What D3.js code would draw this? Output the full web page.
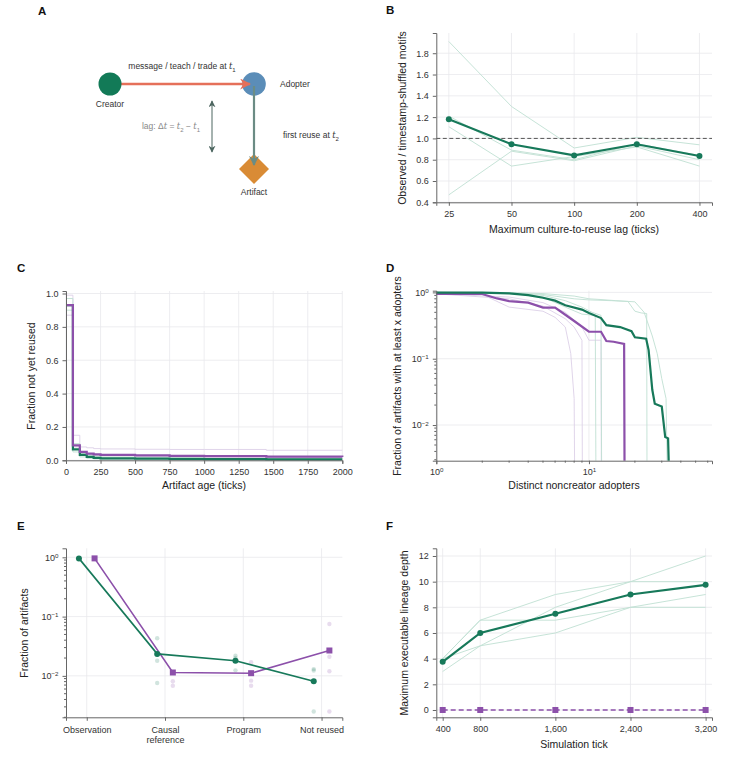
<!DOCTYPE html>
<html>
<head>
<meta charset="utf-8">
<script src="https://cdn.jsdelivr.net/npm/d3@7"></script>
<style>
  body { margin: 0; background: #fff; }
  svg { font-family: "Liberation Sans", Arial, sans-serif; }
  .tick text { fill: #333; font-size: 9px; }
  .tick line { stroke: #666; }
  .domain { stroke: #666; }
  .grid line { stroke: #e8e8ec; stroke-width: 0.8; }
  .axis-label { fill: #222; font-size: 10.5px; text-anchor: middle; }
  .panel-label { font-weight: bold; font-size: 11.5px; fill: #111; }
</style>
</head>
<body>
<div id="chart"></div>
<script>
// colours
let green = "#17795a";
let purple = "#8c50aa";
let greenFaint = "#bfe0d3";
let purpleFaint = "#ddd0e8";

// ---------- Panel B: motif ratio vs lag ----------
let lagCats = ["25", "50", "100", "200", "400"];
let lagMean = [1.18, 0.945, 0.84, 0.945, 0.835];
let lagReps = [
  [1.91, 1.30, 0.91, 1.01, 0.94],
  [1.21, 0.89, 0.80, 0.95, 0.84],
  [1.11, 0.74, 0.83, 0.92, 0.74],
  [0.47, 0.88, 0.79, 0.93, 0.80]
];

// ---------- Panel C: survival (fraction not yet reused) ----------
let ageTicks = [0, 50, 100, 150, 200, 250, 500, 750, 1000, 1450, 2000];
let survGreen = [0.93, 0.065, 0.032, 0.02, 0.014, 0.012, 0.01, 0.008, 0.007, 0.006, 0.006];
let survPurple = [0.93, 0.09, 0.05, 0.04, 0.035, 0.033, 0.03, 0.027, 0.025, 0.022, 0.02];
let survGreenReps = [
  [0.97, 0.10, 0.04, 0.03, 0.025, 0.02, 0.015, 0.012, 0.01, 0.01, 0.01],
  [0.90, 0.05, 0.02, 0.012, 0.008, 0.006, 0.005, 0.004, 0.004, 0.003, 0.003]
];
let survPurpleReps = [
  [0.99, 0.15, 0.08, 0.075, 0.07, 0.068, 0.066, 0.065, 0.065, 0.06, 0.06],
  [0.87, 0.08, 0.05, 0.035, 0.03, 0.028, 0.025, 0.022, 0.02, 0.018, 0.018]
];

// ---------- Panel D: adopter CCDF (0 = drops to axis) ----------
let adoptGreenX = [1, 2, 3, 4, 5, 6, 7, 9, 10, 12, 13, 16, 19, 20, 23.7, 24.6, 26, 27, 30, 31.6, 33, 33.3];
let adoptGreenY = [0.99, 0.99, 0.965, 0.91, 0.83, 0.75, 0.64, 0.55, 0.49, 0.41, 0.32, 0.30, 0.26, 0.21, 0.20, 0.135, 0.034, 0.021, 0.019, 0.0066, 0.0063, 0];
let adoptPurpleX = [1, 2, 2.5, 3, 4, 5, 6, 7, 8, 10, 12, 13, 14.5, 17, 17.1];
let adoptPurpleY = [0.945, 0.945, 0.81, 0.74, 0.70, 0.59, 0.59, 0.46, 0.37, 0.255, 0.255, 0.185, 0.18, 0.167, 0];
let adoptGreenReps = [
  { x: [1, 3, 5, 8, 10, 14, 18, 20, 22, 23.9, 24], y: [1, 0.99, 0.93, 0.8, 0.77, 0.75, 0.73, 0.52, 0.49, 0.48, 0] },
  { x: [1, 3, 5, 8, 10, 12, 15, 20, 23, 26, 28, 30, 32, 32.5], y: [1, 0.99, 0.96, 0.88, 0.8, 0.78, 0.75, 0.72, 0.5, 0.22, 0.12, 0.05, 0.025, 0] },
  { x: [1, 3, 5, 7, 9, 11, 11.1], y: [1, 0.97, 0.85, 0.6, 0.47, 0.45, 0] },
  { x: [1, 3, 5, 7, 9, 10.5, 12, 12.1], y: [1, 0.98, 0.9, 0.75, 0.6, 0.5, 0.45, 0] }
];
let adoptPurpleReps = [
  { x: [1, 2, 3, 5, 6, 7, 7.6, 8, 8.05], y: [0.95, 0.93, 0.6, 0.52, 0.42, 0.3, 0.12, 0.025, 0] },
  { x: [1, 3, 5, 7, 8, 9, 9.05], y: [0.95, 0.8, 0.62, 0.4, 0.3, 0.19, 0] },
  { x: [1, 3, 5, 7, 9, 10, 12, 12.05], y: [0.95, 0.85, 0.7, 0.5, 0.3, 0.19, 0.19, 0] }
];

// ---------- Panel E: reuse channel fractions ----------
let channelCats = ["Observation", "Causal reference", "Program", "Not reused"];
let channelGreen = [0.96, 0.0235, 0.018, 0.0081];
let channelPurple = [0.96, 0.0114, 0.0111, 0.0268];
let channelGreenReps = [
  [0.96, 0.043, 0.0218, 0.013],
  [0.96, 0.023, 0.020, 0.0123],
  [0.96, 0.018, 0.0124, 0.0025],
  [0.96, 0.0076, 0.018, 0.0081]
];
let channelPurpleReps = [
  [0.96, 0.0114, 0.017, 0.075],
  [0.96, 0.0081, 0.0083, 0.021],
  [0.96, 0.0068, 0.0068, 0.012],
  [0.96, 0.0114, 0.0111, 0.0025]
];

// ---------- Panel F: lineage depth over time ----------
let simTicks = [400, 800, 1600, 2400, 3200];
let depthGreen = [3.75, 6, 7.5, 9, 9.75];
let depthPurple = [0, 0, 0, 0, 0];
let depthReps = [
  [4, 7, 9, 10, 10],
  [4, 7, 7, 8, 8],
  [3, 5, 8, 10, 12],
  [4, 5, 6, 8, 9]
];

/////////////////////////Set Up SVG////////////////////////////
let svg = d3.select("#chart").append("svg")
  .attr("width", 754)
  .attr("height", 765);

let defs = svg.append("defs");
function arrowMarker(id, color, size) {
  defs.append("marker")
    .attr("id", id)
    .attr("viewBox", "0 0 10 10")
    .attr("refX", 9).attr("refY", 5)
    .attr("markerWidth", size).attr("markerHeight", size)
    .attr("orient", "auto-start-reverse")
    .attr("markerUnits", "userSpaceOnUse")
    .append("path")
    .attr("d", "M0,0 L10,5 L0,10 L3,5 Z")
    .attr("fill", color);
}
arrowMarker("arrRed", "#e5705a", 11);
arrowMarker("arrGray", "#6b8c84", 10);
arrowMarker("arrDark", "#4d6660", 7);

function styleAxis(g) {
  g.select(".domain").attr("stroke", "#666").attr("stroke-width", 1);
  g.selectAll(".tick line").attr("stroke", "#666");
}

function panelLabel(x, y, t) {
  svg.append("text").attr("class", "panel-label").attr("x", x).attr("y", y).text(t);
}

function yLabel(x, y, t) {
  svg.append("text").attr("class", "axis-label")
    .attr("transform", `translate(${x},${y}) rotate(-90)`)
    .text(t);
}

function xLabel(x, y, t) {
  svg.append("text").attr("class", "axis-label").attr("x", x).attr("y", y).text(t);
}

// 10^k tick labels
function supLabel(sel, exp) {
  sel.text("");
  sel.append("tspan").text("10");
  sel.append("tspan").attr("dy", "-0.45em").attr("font-size", "6.2px")
    .text(exp < 0 ? "\u2212" + Math.abs(exp) : String(exp));
}

/////////////////////////Panel A////////////////////////////
function drawPanelA() {
  panelLabel(38, 15, "A");
  let g = svg.append("g").attr("font-size", "8.5px").attr("fill", "#333");

  // red transfer arrow
  g.append("line").attr("x1", 112).attr("y1", 84).attr("x2", 250).attr("y2", 84)
    .attr("stroke", "#e5705a").attr("stroke-width", 2.6)
    .attr("marker-end", "url(#arrRed)");
  // reuse arrow
  g.append("line").attr("x1", 254).attr("y1", 86).attr("x2", 254).attr("y2", 165)
    .attr("stroke", "#6b8c84").attr("stroke-width", 2.2)
    .attr("marker-end", "url(#arrGray)");

  g.append("circle").attr("cx", 110).attr("cy", 84).attr("r", 11.5).attr("fill", "#127a57");
  g.insert("circle", "line").attr("cx", 254).attr("cy", 84).attr("r", 11.8).attr("fill", "#5b8db8");
  g.insert("path", "line")
    .attr("d", "M254,154 L269,169 L254,184 L239,169 Z")
    .attr("fill", "#d98b35");

  // lag double arrow
  g.append("line").attr("x1", 212).attr("y1", 101).attr("x2", 212).attr("y2", 152)
    .attr("stroke", "#4d6660").attr("stroke-width", 1)
    .attr("marker-start", "url(#arrDark)").attr("marker-end", "url(#arrDark)");

  let t1 = g.append("text").attr("x", 182).attr("y", 69).attr("text-anchor", "middle");
  t1.append("tspan").text("message / teach / trade at ");
  t1.append("tspan").attr("font-style", "italic").attr("font-family", "DejaVu Serif").text("t");
  t1.append("tspan").attr("dy", 2.5).attr("font-size", "6px").text("1");

  g.append("text").attr("x", 110).attr("y", 107).attr("text-anchor", "middle").text("Creator");
  g.append("text").attr("x", 280).attr("y", 87).text("Adopter");
  g.append("text").attr("x", 254).attr("y", 195).attr("text-anchor", "middle").text("Artifact");

  let t2 = g.append("text").attr("x", 283).attr("y", 138);
  t2.append("tspan").text("first reuse at ");
  t2.append("tspan").attr("font-style", "italic").attr("font-family", "DejaVu Serif").text("t");
  t2.append("tspan").attr("dy", 2.5).attr("font-size", "6px").text("2");

  let t3 = g.append("text").attr("x", 200).attr("y", 129).attr("text-anchor", "end").attr("fill", "#888");
  t3.append("tspan").text("lag: \u0394");
  t3.append("tspan").attr("font-style", "italic").attr("font-family", "DejaVu Serif").text("t");
  t3.append("tspan").text(" = ");
  t3.append("tspan").attr("font-style", "italic").attr("font-family", "DejaVu Serif").text("t");
  t3.append("tspan").attr("dy", 2.5).attr("font-size", "6px").text("2");
  t3.append("tspan").attr("dy", -2.5).text(" \u2212 ");
  t3.append("tspan").attr("font-style", "italic").attr("font-family", "DejaVu Serif").text("t");
  t3.append("tspan").attr("dy", 2.5).attr("font-size", "6px").text("1");
}

/////////////////////////Panel B////////////////////////////
function drawPanelB() {
  panelLabel(386, 14, "B");
  let x = d3.scaleLinear().domain([-0.2, 4.2]).range([436.3, 712]);
  let y = d3.scaleLinear().domain([0.4, 1.99]).range([202.3, 33]);
  let idx = lagCats.map((d, i) => i);
  let yTicks = [0.4, 0.6, 0.8, 1.0, 1.2, 1.4, 1.6, 1.8];

  let grid = svg.append("g").attr("class", "grid");
  grid.selectAll(".gy").data(yTicks).enter().append("line")
    .attr("x1", 436.3).attr("x2", 712).attr("y1", d => y(d)).attr("y2", d => y(d));
  grid.selectAll(".gx").data(idx).enter().append("line")
    .attr("x1", d => x(d)).attr("x2", d => x(d)).attr("y1", 33).attr("y2", 202.3);

  let line = d3.line().x((d, i) => x(i)).y(d => y(d));
  svg.append("g").selectAll("path").data(lagReps).enter().append("path")
    .attr("d", line).attr("fill", "none").attr("stroke", greenFaint).attr("stroke-width", 0.9);

  svg.append("line").attr("x1", 436.3).attr("x2", 712).attr("y1", y(1)).attr("y2", y(1))
    .attr("stroke", "#555").attr("stroke-width", 1).attr("stroke-dasharray", "4,2.5");

  svg.append("path").datum(lagMean).attr("d", line)
    .attr("fill", "none").attr("stroke", green).attr("stroke-width", 2.2);
  svg.append("g").selectAll("circle").data(lagMean).enter().append("circle")
    .attr("cx", (d, i) => x(i)).attr("cy", d => y(d)).attr("r", 3).attr("fill", green);

  let xAxis = svg.append("g").attr("transform", "translate(0,202.3)")
    .call(d3.axisBottom(x).tickValues(idx).tickFormat(i => lagCats[i]).tickSize(3.5).tickPadding(4.5));
  styleAxis(xAxis);
  let yAxis = svg.append("g").attr("transform", "translate(436.3,0)")
    .call(d3.axisLeft(y).tickValues(yTicks).tickFormat(d3.format(".1f")).tickSize(3.5).tickPadding(4));
  styleAxis(yAxis);

  xLabel(574, 233, "Maximum culture-to-reuse lag (ticks)");
  yLabel(406, 118, "Observed / timestamp-shuffled motifs");
}

/////////////////////////Panel C////////////////////////////
function drawPanelC() {
  panelLabel(17, 272, "C");
  let x = d3.scaleLinear().domain([0, 2000]).range([66, 342.3]);
  let y = d3.scaleLinear().domain([0, 1.015]).range([460.3, 291]);
  let xTicks = d3.range(0, 2001, 250);
  let yTicks = [0, 0.2, 0.4, 0.6, 0.8, 1.0];

  let grid = svg.append("g").attr("class", "grid");
  grid.selectAll(".gy").data(yTicks).enter().append("line")
    .attr("x1", 66).attr("x2", 342.3).attr("y1", d => y(d)).attr("y2", d => y(d));
  grid.selectAll(".gx").data(xTicks).enter().append("line")
    .attr("x1", d => x(d)).attr("x2", d => x(d)).attr("y1", 291).attr("y2", 460.3);

  let step = d3.line().curve(d3.curveStepAfter).x((d, i) => x(ageTicks[i])).y(d => y(d));
  svg.append("g").selectAll("path").data(survPurpleReps).enter().append("path")
    .attr("d", step).attr("fill", "none").attr("stroke", purpleFaint).attr("stroke-width", 0.9);
  svg.append("g").selectAll("path").data(survGreenReps).enter().append("path")
    .attr("d", step).attr("fill", "none").attr("stroke", greenFaint).attr("stroke-width", 0.9);

  svg.append("path").datum(survGreen).attr("d", step)
    .attr("fill", "none").attr("stroke", green).attr("stroke-width", 2.2);
  svg.append("path").datum(survPurple).attr("d", step)
    .attr("fill", "none").attr("stroke", purple).attr("stroke-width", 2.2);

  let xAxis = svg.append("g").attr("transform", "translate(0,460.3)")
    .call(d3.axisBottom(x).tickValues(xTicks).tickFormat(d3.format("d")).tickSize(3.5).tickPadding(4.5));
  styleAxis(xAxis);
  let yAxis = svg.append("g").attr("transform", "translate(66,0)")
    .call(d3.axisLeft(y).tickValues(yTicks).tickFormat(d3.format(".1f")).tickSize(3.5).tickPadding(4));
  styleAxis(yAxis);

  xLabel(204, 489, "Artifact age (ticks)");
  yLabel(35, 376, "Fraction not yet reused");
}

/////////////////////////Panel D////////////////////////////
function drawPanelD() {
  panelLabel(386, 272, "D");
  let x = d3.scaleLog().domain([1, 64]).range([436.3, 712]);
  let y = d3.scaleLog().domain([0.0029, 1.06]).range([460.7, 290.7]);
  let yv = v => v > 0 ? y(v) : 460.7;

  let grid = svg.append("g").attr("class", "grid");
  grid.selectAll(".gy").data([1, 0.1, 0.01]).enter().append("line")
    .attr("x1", 436.3).attr("x2", 712).attr("y1", d => y(d)).attr("y2", d => y(d));
  grid.selectAll(".gx").data([1, 10]).enter().append("line")
    .attr("x1", d => x(d)).attr("x2", d => x(d)).attr("y1", 290.7).attr("y2", 460.7);

  let line = d3.line().x(d => x(d[0])).y(d => yv(d[1]));
  let pairs = r => r.x.map((v, i) => [v, r.y[i]]);
  svg.append("g").selectAll("path").data(adoptPurpleReps).enter().append("path")
    .attr("d", r => line(pairs(r))).attr("fill", "none").attr("stroke", purpleFaint).attr("stroke-width", 0.9);
  svg.append("g").selectAll("path").data(adoptGreenReps).enter().append("path")
    .attr("d", r => line(pairs(r))).attr("fill", "none").attr("stroke", greenFaint).attr("stroke-width", 0.9);

  svg.append("path").attr("d", line(pairs({ x: adoptPurpleX, y: adoptPurpleY })))
    .attr("fill", "none").attr("stroke", purple).attr("stroke-width", 2.2);
  svg.append("path").attr("d", line(pairs({ x: adoptGreenX, y: adoptGreenY })))
    .attr("fill", "none").attr("stroke", green).attr("stroke-width", 2.2);

  let xMinor = [2, 3, 4, 5, 6, 7, 8, 9, 20, 30, 40, 50, 60];
  let yMinor = [];
  [0.001, 0.01, 0.1].forEach(b => d3.range(2, 10).forEach(k => {
    let v = b * k;
    if (v >= 0.0029 && v <= 1.06) yMinor.push(v);
  }));

  let xAxis = svg.append("g").attr("transform", "translate(0,460.7)")
    .call(d3.axisBottom(x).tickValues([1, 10]).tickSize(3.5).tickPadding(4.5));
  xAxis.selectAll(".tick text").each(function(d) { supLabel(d3.select(this), Math.round(Math.log10(d))); });
  xAxis.append("g").selectAll("line").data(xMinor).enter().append("line")
    .attr("x1", d => x(d)).attr("x2", d => x(d)).attr("y1", 0).attr("y2", 2).attr("stroke", "#666");
  styleAxis(xAxis);

  let yAxis = svg.append("g").attr("transform", "translate(436.3,0)")
    .call(d3.axisLeft(y).tickValues([1, 0.1, 0.01]).tickSize(3.5).tickPadding(4));
  yAxis.selectAll(".tick text").each(function(d) { supLabel(d3.select(this), Math.round(Math.log10(d))); });
  yAxis.append("g").selectAll("line").data(yMinor).enter().append("line")
    .attr("y1", d => y(d)).attr("y2", d => y(d)).attr("x1", 0).attr("x2", -2).attr("stroke", "#666");
  styleAxis(yAxis);

  xLabel(574, 489, "Distinct noncreator adopters");
  yLabel(401, 376, "Fraction of artifacts with at least x adopters");
}

/////////////////////////Panel E////////////////////////////
function drawPanelE() {
  panelLabel(17, 530, "E");
  let x = d3.scaleLinear().domain([-0.265, 3.265]).range([66, 342.3]);
  let y = d3.scaleLog().domain([0.002, 1.42]).range([717.3, 548.3]);
  let idx = channelCats.map((d, i) => i);
  let off = 0.1;

  let grid = svg.append("g").attr("class", "grid");
  grid.selectAll(".gy").data([1, 0.1, 0.01]).enter().append("line")
    .attr("x1", 66).attr("x2", 342.3).attr("y1", d => y(d)).attr("y2", d => y(d));
  grid.selectAll(".gx").data(idx).enter().append("line")
    .attr("x1", d => x(d)).attr("x2", d => x(d)).attr("y1", 548.3).attr("y2", 717.3);

  // replicate dots
  channelGreenReps.forEach(r => {
    svg.append("g").selectAll("circle").data(r).enter().append("circle")
      .attr("cx", (d, i) => x(i - off)).attr("cy", d => y(d)).attr("r", 2.2)
      .attr("fill", green).attr("opacity", 0.2);
  });
  channelPurpleReps.forEach(r => {
    svg.append("g").selectAll("circle").data(r).enter().append("circle")
      .attr("cx", (d, i) => x(i + off)).attr("cy", d => y(d)).attr("r", 2.2)
      .attr("fill", purple).attr("opacity", 0.2);
  });

  let lineG = d3.line().x((d, i) => x(i - off)).y(d => y(d));
  let lineP = d3.line().x((d, i) => x(i + off)).y(d => y(d));
  svg.append("path").datum(channelPurple).attr("d", lineP)
    .attr("fill", "none").attr("stroke", purple).attr("stroke-width", 1.6);
  svg.append("path").datum(channelGreen).attr("d", lineG)
    .attr("fill", "none").attr("stroke", green).attr("stroke-width", 1.6);
  svg.append("g").selectAll("rect").data(channelPurple).enter().append("rect")
    .attr("x", (d, i) => x(i + off) - 3).attr("y", d => y(d) - 3)
    .attr("width", 6).attr("height", 6).attr("fill", purple);
  svg.append("g").selectAll("circle").data(channelGreen).enter().append("circle")
    .attr("cx", (d, i) => x(i - off)).attr("cy", d => y(d)).attr("r", 3).attr("fill", green);

  let yMinor = [];
  [0.001, 0.01, 0.1].forEach(b => d3.range(2, 10).forEach(k => {
    let v = b * k;
    if (v >= 0.002 && v <= 1.42) yMinor.push(v);
  }));

  let xAxis = svg.append("g").attr("transform", "translate(0,717.3)")
    .call(d3.axisBottom(x).tickValues(idx).tickFormat("").tickSize(3.5));
  styleAxis(xAxis);
  xAxis.selectAll(".tick").append("text")
    .attr("fill", "#333").attr("text-anchor", "middle").attr("font-size", "9px")
    .each(function(i) {
      let words = channelCats[i] === "Causal reference" ? ["Causal", "reference"] : [channelCats[i]];
      d3.select(this).selectAll("tspan").data(words).enter().append("tspan")
        .attr("x", 0).attr("y", (w, k) => 15.5 + k * 10).text(w => w);
    });

  let yAxis = svg.append("g").attr("transform", "translate(66,0)")
    .call(d3.axisLeft(y).tickValues([1, 0.1, 0.01]).tickSize(3.5).tickPadding(4));
  yAxis.selectAll(".tick text").each(function(d) { supLabel(d3.select(this), Math.round(Math.log10(d))); });
  yAxis.append("g").selectAll("line").data(yMinor).enter().append("line")
    .attr("y1", d => y(d)).attr("y2", d => y(d)).attr("x1", 0).attr("x2", -2).attr("stroke", "#666");
  styleAxis(yAxis);

  yLabel(28, 633, "Fraction of artifacts");
}

/////////////////////////Panel F////////////////////////////
function drawPanelF() {
  panelLabel(386, 530, "F");
  let x = d3.scaleLinear().domain([332, 3268]).range([436.3, 712]);
  let y = d3.scaleLinear().domain([-0.57, 12.6]).range([717.3, 548.3]);
  let yTicks = [0, 2, 4, 6, 8, 10, 12];

  let grid = svg.append("g").attr("class", "grid");
  grid.selectAll(".gy").data(yTicks).enter().append("line")
    .attr("x1", 436.3).attr("x2", 712).attr("y1", d => y(d)).attr("y2", d => y(d));
  grid.selectAll(".gx").data(simTicks).enter().append("line")
    .attr("x1", d => x(d)).attr("x2", d => x(d)).attr("y1", 548.3).attr("y2", 717.3);

  let line = d3.line().x((d, i) => x(simTicks[i])).y(d => y(d));
  svg.append("g").selectAll("path").data(depthReps).enter().append("path")
    .attr("d", line).attr("fill", "none").attr("stroke", greenFaint).attr("stroke-width", 0.9);

  svg.append("path").datum(depthGreen).attr("d", line)
    .attr("fill", "none").attr("stroke", green).attr("stroke-width", 2.2);
  svg.append("g").selectAll("circle").data(depthGreen).enter().append("circle")
    .attr("cx", (d, i) => x(simTicks[i])).attr("cy", d => y(d)).attr("r", 3).attr("fill", green);

  svg.append("path").datum(depthPurple).attr("d", line)
    .attr("fill", "none").attr("stroke", purple).attr("stroke-width", 1.6).attr("stroke-dasharray", "5,3");
  svg.append("g").selectAll("rect").data(depthPurple).enter().append("rect")
    .attr("x", (d, i) => x(simTicks[i]) - 3).attr("y", d => y(d) - 3)
    .attr("width", 6).attr("height", 6).attr("fill", purple);

  let xAxis = svg.append("g").attr("transform", "translate(0,717.3)")
    .call(d3.axisBottom(x).tickValues(simTicks).tickFormat(d3.format(",")).tickSize(3.5).tickPadding(4.5));
  styleAxis(xAxis);
  let yAxis = svg.append("g").attr("transform", "translate(436.3,0)")
    .call(d3.axisLeft(y).tickValues(yTicks).tickSize(3.5).tickPadding(4));
  styleAxis(yAxis);

  xLabel(574, 748, "Simulation tick");
  yLabel(408, 633, "Maximum executable lineage depth");
}

drawPanelA();
drawPanelB();
drawPanelC();
drawPanelD();
drawPanelE();
drawPanelF();
</script>
</body>
</html>
